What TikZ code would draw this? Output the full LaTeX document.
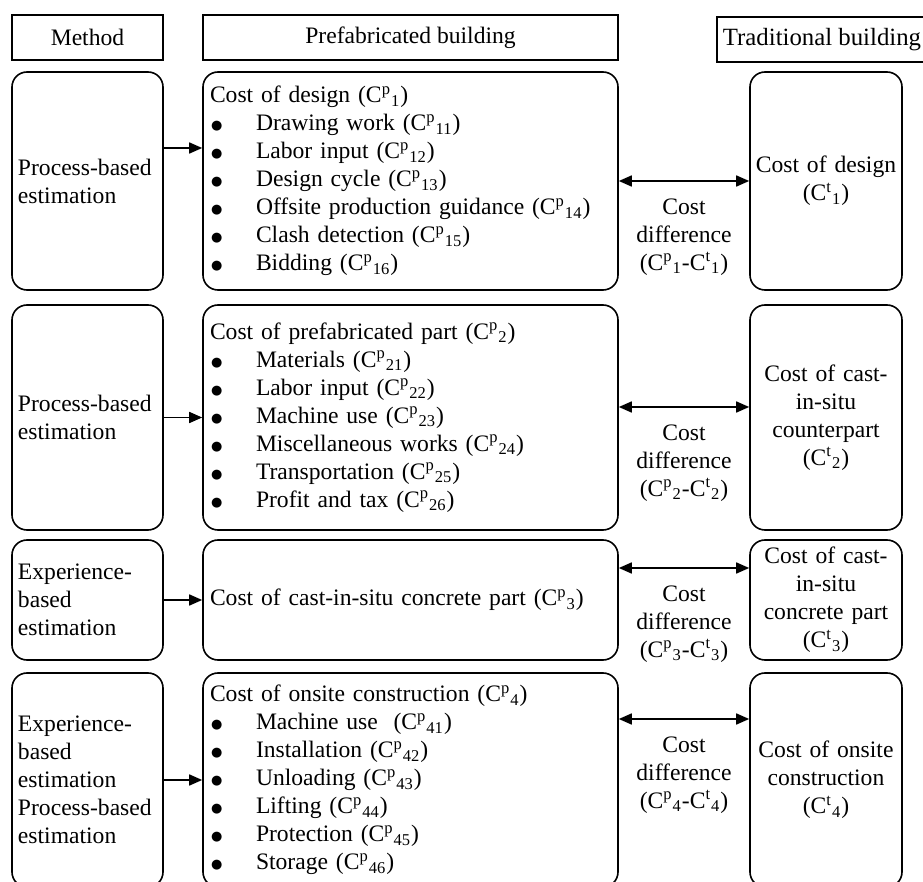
\documentclass[tikz,border=0pt]{standalone}
\usepackage{fontspec}
\setmainfont{Liberation Serif}
\newfontfamily\symfont{DejaVu Sans}
\usetikzlibrary{arrows.meta,positioning}

\newcommand{\cp}[1]{C\textsuperscript{p}\textsubscript{#1}}
\newcommand{\ct}[1]{C\textsuperscript{t}\textsubscript{#1}}
\newcommand{\itm}[1]{\makebox[23pt][l]{\hspace{0.5pt}\raisebox{0.6pt}{\symfont\fontsize{6.5}{8}\selectfont ●}}#1}

\begin{document}
\begin{tikzpicture}[x=0.5pt, y=-0.5pt, thick,
    font=\fontsize{11.8}{14}\selectfont,
    head/.style={rectangle, draw, line width=0.6pt, minimum height=22.5pt, inner sep=2pt},
    method/.style={rectangle, draw, rounded corners=7.5pt, text width=69.5pt, align=left, inner sep=3pt},
    prefab/.style={rectangle, draw, rounded corners=7.5pt, text width=200.5pt, align=left, inner sep=3.5pt},
    trad/.style={rectangle, draw, rounded corners=7.5pt, text width=75pt, align=center, inner sep=0.5pt},
    link/.style={-{Triangle[length=6.5pt,width=5.5pt]}},
    both/.style={{Triangle[length=6.5pt,width=5.5pt]}-{Triangle[length=6.5pt,width=5.5pt]}},
    diff/.style={below=5pt, align=center}]

\useasboundingbox (0,0) rectangle (923,882);
\clip (0,0) rectangle (923,882);

% Headers
\node [head, minimum width=75.5pt] (hmethod) at (87.5,37.5) {Method};
\node [head, minimum width=207.5pt, right of=hmethod, node distance=161.5pt] (hprefab) {Prefabricated building};
\node [head, minimum width=105pt, font=\fontsize{12.4}{14}\selectfont] (htrad) at (822,39.5) {Traditional building};

% Row 1
\node [method, minimum height=109pt] (method1) at (87.5,181) {Process-based\\estimation};
\node [prefab, minimum height=109pt, right of=method1, node distance=161.5pt] (prefab1) {Cost of design (\cp{1})\\
  \itm{Drawing work (\cp{11})}\\
  \itm{Labor input (\cp{12})}\\
  \itm{Design cycle (\cp{13})}\\
  \itm{Offsite production guidance (\cp{14})}\\
  \itm{Clash detection (\cp{15})}\\
  \itm{Bidding (\cp{16})}};
\node [trad, minimum height=109pt, right of=prefab1, node distance=207.75pt] (trad1) {Cost of design\\(\ct{1})};

% Row 2
\node [method, minimum height=112.5pt] (method2) at (87.5,417.5) {Process-based\\estimation};
\node [prefab, minimum height=112.5pt, right of=method2, node distance=161.5pt] (prefab2) {Cost of prefabricated part (\cp{2})\\
  \itm{Materials (\cp{21})}\\
  \itm{Labor input (\cp{22})}\\
  \itm{Machine use (\cp{23})}\\
  \itm{Miscellaneous works (\cp{24})}\\
  \itm{Transportation (\cp{25})}\\
  \itm{Profit and tax (\cp{26})}};
\node [trad, minimum height=112.5pt, right of=prefab2, node distance=207.75pt] (trad2) {Cost of cast-\\in-situ\\counterpart\\(\ct{2})};

% Row 3
\node [method, minimum height=60pt] (method3) at (87.5,600) {Experience-\\based\\estimation};
\node [prefab, minimum height=60pt, right of=method3, node distance=161.5pt] (prefab3) {Cost of cast-in-situ concrete part (\cp{3})};
\node [trad, minimum height=60pt, right of=prefab3, node distance=207.75pt] (trad3) {Cost of cast-\\in-situ\\concrete part\\(\ct{3})};

% Row 4
\node [method, minimum height=107pt] (method4) at (87.5,780) {Experience-\\based\\estimation\\Process-based\\estimation};
\node [prefab, minimum height=107pt, right of=method4, node distance=161.5pt] (prefab4) {Cost of onsite construction (\cp{4})\\
  \itm{Machine use~ (\cp{41})}\\
  \itm{Installation (\cp{42})}\\
  \itm{Unloading (\cp{43})}\\
  \itm{Lifting (\cp{44})}\\
  \itm{Protection (\cp{45})}\\
  \itm{Storage (\cp{46})}};
\node [trad, minimum height=107pt, right of=prefab4, node distance=207.75pt] (trad4) {Cost of onsite\\construction\\(\ct{4})};

% Arrows
\draw [link] ([yshift=16.5pt]method1.east) -- ([yshift=16.5pt]prefab1.west);
\draw [link] (method2) -- (prefab2);
\draw [link] (method3) -- (prefab3);
\draw [link] (method4) -- (prefab4);

\draw [both] (prefab1) -- node[diff] {Cost\\difference\\(\cp{1}-\ct{1})} (trad1);
\draw [both] ([yshift=5.25pt]prefab2.east) -- node[diff] {Cost\\difference\\(\cp{2}-\ct{2})} ([yshift=5.25pt]trad2.west);
\draw [both] ([yshift=16pt]prefab3.east) -- node[diff] {Cost\\difference\\(\cp{3}-\ct{3})} ([yshift=16pt]trad3.west);
\draw [both] ([yshift=30.5pt]prefab4.east) -- node[diff] {Cost\\difference\\(\cp{4}-\ct{4})} ([yshift=30.5pt]trad4.west);

\end{tikzpicture}
\end{document}
